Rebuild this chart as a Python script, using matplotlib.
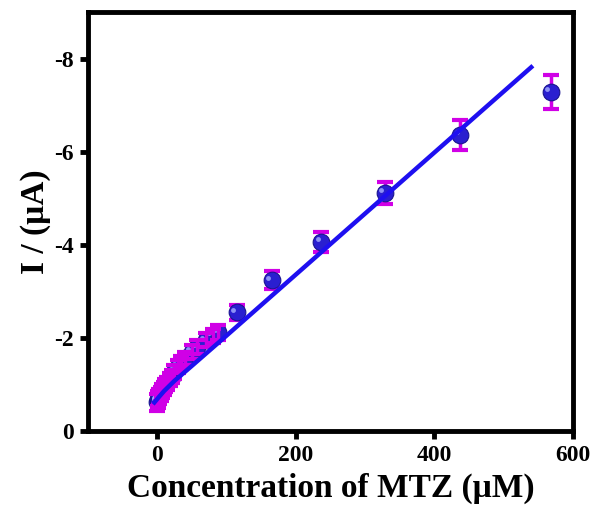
import numpy as np
import matplotlib
matplotlib.use("Agg")
import matplotlib.pyplot as plt
import matplotlib.transforms as mtransforms

plt.rcParams["font.family"] = ["Liberation Serif", "DejaVu Serif"]
plt.rcParams["font.weight"] = "bold"
plt.rcParams["axes.unicode_minus"] = False

# measured points (concentration in uM, current in uA, plotted negative)
conc = [0.5, 1, 2, 3, 5, 7, 10, 12, 15, 18, 21, 25, 30, 35, 40, 50, 58,
        70, 80, 88, 115, 165, 237, 328, 437, 568]
current = [0.62, 0.66, 0.70, 0.75, 0.80, 0.86, 0.92, 0.97, 1.03, 1.10, 1.17,
           1.27, 1.38, 1.48, 1.57, 1.70, 1.80, 1.95, 2.05, 2.12, 2.55, 3.24,
           4.06, 5.12, 6.36, 7.29]
error = [0.18, 0.17, 0.16, 0.16, 0.15, 0.15, 0.14, 0.14, 0.14, 0.14, 0.14,
         0.14, 0.14, 0.14, 0.14, 0.15, 0.15, 0.15, 0.15, 0.16, 0.17, 0.19,
         0.22, 0.24, 0.33, 0.37]

# fitted curve
fit_x = [-6, 3, 10, 25, 50, 100, 542]
fit_y = [0.58, 0.74, 0.86, 1.08, 1.40, 2.05, 7.85]

x_ticks = [0, 200, 400, 600]
y_ticks = [0, -2, -4, -6, -8]

fig = plt.figure(figsize=(5.97, 5.09), dpi=100)
ax = fig.add_axes([0.147, 0.153, 0.813, 0.823])

x = np.asarray(conc)
y = -np.asarray(current)
err = np.asarray(error)
low = x < 100

# dense low-concentration points: bars sit over the balls like in the original
ax.errorbar(x[~low], y[~low], yerr=err[~low], fmt="none", ecolor="#d000e6",
            elinewidth=2.5, capsize=6, capthick=3, zorder=2)
ax.errorbar(x[low], y[low], yerr=err[low], fmt="none", ecolor="#d000e6",
            elinewidth=2.5, capsize=6, capthick=3, zorder=6)
ax.plot(fit_x, -np.asarray(fit_y), color="#1e0ff0", lw=3.2, zorder=7,
        solid_capstyle="butt")
ax.plot(x, y, "o", ms=12, color="#2a1fd0", mec="#1a1490", mew=0.8,
        zorder=4)
shine = mtransforms.offset_copy(ax.transData, fig=fig, x=-2.5, y=2.0,
                                units="points")
ax.plot(x, y, "o", ms=3.5, color="#a8b0ff", mec="none", alpha=0.8,
        transform=shine, zorder=5)

ax.set_xlim(-100, 600)
ax.set_ylim(0, -9)
ax.set_xticks(x_ticks)
ax.set_yticks(y_ticks)
ax.tick_params(width=3.5, length=6, labelsize=17, pad=4)
for label in ax.get_xticklabels() + ax.get_yticklabels():
    label.set_fontweight("bold")
for s in ax.spines.values():
    s.set_linewidth(3.5)

ax.set_xlabel("Concentration of MTZ (\u03bcM)", fontsize=24,
              fontweight="bold", labelpad=5)
ax.set_ylabel("I / (\u03bcA)", fontsize=24, fontweight="bold", labelpad=2)

fig.savefig("out.png", dpi=100)
